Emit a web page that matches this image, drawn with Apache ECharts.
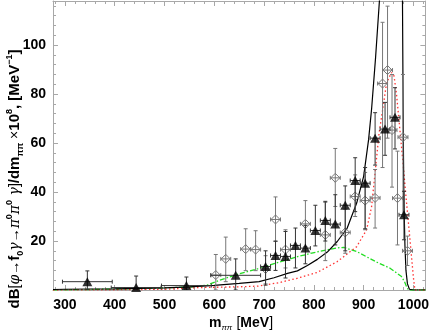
<!DOCTYPE html>
<html><head><meta charset="utf-8">
<script src="https://cdn.jsdelivr.net/npm/echarts@6/dist/echarts.min.js"></script>
<style>html,body{margin:0;padding:0;background:#fff}#c{width:432px;height:333px}</style>
</head><body><div id="c"></div>
<script>
// ---- axis ticks ----
const xMajorTicks = [300, 400, 500, 600, 700, 800, 900, 1000];
const xMinorTicks = [280, 320, 340, 360, 380, 420, 440, 460, 480, 520, 540, 560, 580, 620, 640, 660, 680, 720, 740, 760, 780, 820, 840, 860, 880, 920, 940, 960, 980, 1020];
const yTickLabels = [20, 40, 60, 80, 100];

// ---- filled triangles (data set 1) ----
const triX    = [345, 443, 544, 643, 703, 723, 743, 763, 783, 803, 823, 843, 863, 883, 903, 923, 943, 963, 981];
const triY    = [3.4, 1.0, 1.8, 6.0, 9.6, 14.1, 13.7, 18.2, 17.1, 24.3, 28.4, 26.9, 34.6, 44.7, 43.6, 62.0, 65.7, 70.5, 30.7];
const triLo   = [0, 0, 0, 0, 2.0, 8.0, 4.9, 9.0, 10.7, 18.0, 20.0, 18.4, 16.0, 32.0, 25.0, 51.0, 55.0, 57.6, 20.5];
const triHi   = [7.8, 5.7, 5.3, 12.7, 16.0, 20.0, 23.9, 25.3, 26.4, 34.6, 36.2, 38.9, 42.5, 54.0, 50.0, 72.4, 76.6, 82.6, 40.3];
const triXerr = [50, 50, 50, 50, 10, 10, 10, 10, 10, 10, 10, 10, 10, 10, 10, 10, 10, 10, 10];

// ---- open diamonds (data set 2) ----
const dmX    = [603, 623, 663, 683, 703, 723, 743, 783, 823, 843, 863, 883, 903, 923, 938, 948, 957, 968, 979, 988];
const dmY    = [6.1, 12.7, 16.7, 16.5, 8.6, 28.8, 16.5, 27.0, 22.5, 45.8, 23.5, 38.2, 36.5, 37.6, 84.3, 89.8, 65.3, 37.5, 62.4, 16.0];
const dmLo   = [0, 3.4, 7.9, 7.9, 2.5, 19.8, 9.0, 17.7, 12.0, 34.1, 15.0, 30.0, 24.6, 25.3, 50.0, 62.0, 42.0, 18.4, 30.0, 10.0];
const dmHi   = [14.5, 21.6, 25.0, 24.2, 14.0, 38.0, 24.6, 36.5, 35.8, 57.8, 33.0, 47.0, 48.0, 49.2, 109.3, 115.9, 88.0, 56.7, 88.0, 22.0];
const dmXerr = [10, 10, 10, 10, 10, 10, 10, 10, 10, 10, 10, 10, 10, 10, 10, 10, 10, 10, 10, 10];

// ---- curves ----
const blackX = [276, 300, 350, 400, 450, 500, 550, 600, 650, 690, 720, 747, 767, 787, 807, 827, 847, 867, 886, 900, 910, 916, 924, 932, 940, 950, 960, 970, 976, 978, 979, 980, 981, 983, 985, 988, 992, 1000, 1024];
const blackY = [0.2, 0.3, 0.4, 0.5, 0.7, 0.9, 1.3, 1.9, 2.7, 3.4, 5.0, 6.8, 7.8, 10.0, 12.5, 15.5, 19.8, 25.3, 35.5, 46.4, 61.5, 74, 95, 119, 150, 190, 210, 190, 140, 118, 85, 55, 35, 18, 8, 2.5, 0.3, 0, 0];
const redX = [276, 400, 500, 570, 650, 688, 730, 767, 807, 847, 886, 906, 916, 923, 931, 940, 946, 956, 961, 966, 973, 979, 986, 992, 996, 1000, 1003, 1024];
const redY = [0, 0.1, 0.3, 1.0, 1.3, 1.6, 3.0, 4.8, 7.2, 11.6, 17.7, 24.6, 34.1, 48, 64, 76, 84.5, 88.8, 87.4, 80, 65, 52, 36, 23, 14, 5, 0, 0];
const greenX = [276, 350, 400, 450, 500, 550, 586, 608, 648, 688, 727, 767, 807, 847, 860, 886, 926, 953, 966, 976, 982, 987, 990, 1024];
const greenY = [0, 0.2, 0.4, 0.6, 0.9, 1.2, 2.0, 3.8, 6.5, 8.7, 11.2, 13.6, 15.6, 17.2, 17.4, 15.7, 11.4, 8.9, 7.0, 5.5, 3.4, 1.0, 0, 0];

const zip = (a, b) => a.map((v, i) => [v, b[i]]);
const F = '"Liberation Sans", Arial, Helvetica, sans-serif';

function errRender(color, diamond) {
  return function (params, api) {
    const x = api.value(0), y = api.value(1), lo = api.value(2), hi = api.value(3), xe = api.value(4);
    const c = api.coord([x, y]);
    const t = api.coord([x, hi]);
    const b = api.coord([x, lo]);
    const l = api.coord([x - xe, y]);
    const r = api.coord([x + xe, y]);
    const st = { stroke: color, lineWidth: 1 };
    const cap = 2;
    const ch = [
      { type: 'line', shape: { x1: c[0], y1: t[1], x2: c[0], y2: b[1] }, style: st },
      { type: 'line', shape: { x1: c[0] - cap, y1: t[1], x2: c[0] + cap, y2: t[1] }, style: st },
      { type: 'line', shape: { x1: c[0] - cap, y1: b[1], x2: c[0] + cap, y2: b[1] }, style: st },
      { type: 'line', shape: { x1: l[0], y1: c[1], x2: r[0], y2: c[1] }, style: st },
      { type: 'line', shape: { x1: l[0], y1: c[1] - cap, x2: l[0], y2: c[1] + cap }, style: st },
      { type: 'line', shape: { x1: r[0], y1: c[1] - cap, x2: r[0], y2: c[1] + cap }, style: st }
    ];
    if (diamond) {
      const d = 4.5;
      ch.push({ type: 'polygon', shape: { points: [[c[0], c[1] - d], [c[0] + d, c[1]], [c[0], c[1] + d], [c[0] - d, c[1]]] },
        style: { stroke: color, fill: 'none', lineWidth: 1 } });
    }
    return { type: 'group', children: ch };
  };
}

const chart = echarts.init(document.getElementById('c'), null, { renderer: 'canvas' });
const frame = { show: true, lineStyle: { color: '#a8a8a8', width: 1 } };
const majorTick = (vals) => ({ show: true, inside: true, length: 5, customValues: vals, lineStyle: { color: '#a8a8a8' } });
const minorTickX = (vals) => ({ show: true, inside: true, length: 3, customValues: vals, lineStyle: { color: '#a8a8a8' } });

chart.setOption({
  animation: false,
  backgroundColor: '#fff',
  grid: { left: 53, right: 3, top: 1, bottom: 43 },
  xAxis: [
    { type: 'value', min: 276, max: 1024, position: 'bottom', axisLine: frame, splitLine: { show: false },
      axisTick: majorTick(xMajorTicks),
      axisLabel: { customValues: xMajorTicks, margin: 8, fontSize: 14, fontWeight: 'bold', color: '#000', fontFamily: F,
        formatter: v => String(v) } },
    { type: 'value', min: 276, max: 1024, position: 'bottom', axisLine: { show: false }, splitLine: { show: false },
      axisTick: minorTickX(xMinorTicks), axisLabel: { show: false } },
    { type: 'value', min: 276, max: 1024, position: 'top', axisLine: frame, splitLine: { show: false },
      axisTick: majorTick(xMajorTicks), axisLabel: { show: false } },
    { type: 'value', min: 276, max: 1024, position: 'top', axisLine: { show: false }, splitLine: { show: false },
      axisTick: minorTickX(xMinorTicks), axisLabel: { show: false } }
  ],
  yAxis: [
    { type: 'value', min: 0, max: 118, interval: 20, position: 'left', axisLine: frame, splitLine: { show: false },
      axisTick: { show: true, inside: true, length: 5, lineStyle: { color: '#a8a8a8' } },
      minorTick: { show: true, splitNumber: 5, length: 3, lineStyle: { color: '#a8a8a8' } },
      axisLabel: { margin: 7, fontSize: 14, fontWeight: 'bold', color: '#000', fontFamily: F,
        formatter: v => (yTickLabels.indexOf(v) >= 0 ? String(v) : '') } },
    { type: 'value', min: 0, max: 118, interval: 20, position: 'right', axisLine: frame, splitLine: { show: false },
      axisTick: { show: true, inside: true, length: 5, lineStyle: { color: '#a8a8a8' } },
      minorTick: { show: true, splitNumber: 5, length: 3, lineStyle: { color: '#a8a8a8' } },
      axisLabel: { show: false } }
  ],
  graphic: [
    { type: 'text', x: 241, y: 323, z: 100,
      style: { text: '{b|m}{sub|ππ} {n|[}{b|MeV}{n|]}', align: 'center', verticalAlign: 'middle',
        rich: {
          b: { fontSize: 14, fontWeight: 'bold', fontFamily: F, fill: '#000', lineHeight: 18, verticalAlign: 'middle' },
          n: { fontSize: 14, fontFamily: F, fill: '#000', lineHeight: 18, verticalAlign: 'middle' },
          sub: { fontSize: 8, fontStyle: 'italic', fontFamily: F, fill: '#000', lineHeight: 18, verticalAlign: 'bottom', padding: [0, 1, 0, 0] }
        } } },
    { type: 'text', x: 15, y: 179, rotation: Math.PI / 2, z: 100,
      style: { text: '{b|dB}{n|[}{i|φ}{n|→}{b|f}{sub|0}{i|γ}{n|→}{i|π}{sup|0}{i|π}{sup|0}{i| γ}{n|]}{b|/dm}{sub|ππ}{n| ×}{b|10}{sup|8}{b|, [MeV}{sup|−1}{b|]}',
        align: 'center', verticalAlign: 'middle',
        rich: {
          b: { fontSize: 15, fontWeight: 'bold', fontFamily: F, fill: '#000', lineHeight: 20, verticalAlign: 'middle' },
          n: { fontSize: 14, fontFamily: F, fill: '#000', lineHeight: 20, verticalAlign: 'middle' },
          i: { fontSize: 14, fontStyle: 'italic', fontFamily: '"DejaVu Serif", serif', fill: '#000', lineHeight: 20, verticalAlign: 'middle' },
          sub: { fontSize: 9, fontWeight: 'bold', fontFamily: F, fill: '#000', lineHeight: 20, verticalAlign: 'bottom' },
          sup: { fontSize: 9, fontWeight: 'bold', fontFamily: F, fill: '#000', lineHeight: 20, verticalAlign: 'top' }
        } } }
  ],
  series: [
    { type: 'line', data: zip(greenX, greenY), showSymbol: false, clip: true, z: 2,
      lineStyle: { color: '#22dd22', width: 1.3, type: [5, 2, 1.5, 2] } },
    { type: 'line', data: zip(redX, redY), showSymbol: false, clip: true, z: 2,
      lineStyle: { color: '#ff3333', width: 1.3, type: [1.5, 2.5] } },
    { type: 'line', data: zip(blackX, blackY), showSymbol: false, clip: true, z: 3,
      lineStyle: { color: '#000', width: 1.2, type: 'solid' } },
    { type: 'custom', renderItem: errRender('#777777', true), clip: true, z: 4,
      data: dmX.map((v, i) => [v, dmY[i], dmLo[i], dmHi[i], dmXerr[i]]) },
    { type: 'custom', renderItem: errRender('#333333', false), clip: true, z: 5,
      data: triX.map((v, i) => [v, triY[i], triLo[i], triHi[i], triXerr[i]]) },
    { type: 'scatter', data: zip(triX, triY), symbol: 'triangle', symbolSize: [10, 9], z: 6,
      itemStyle: { color: '#000' } }
  ]
});
</script>
</body></html>
